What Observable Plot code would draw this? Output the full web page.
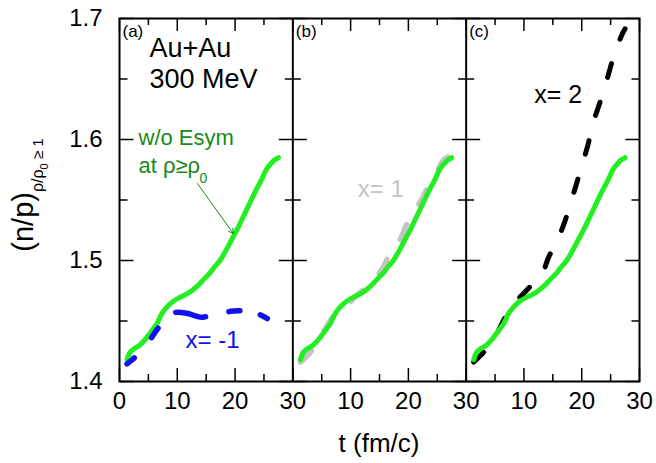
<!DOCTYPE html>
<html><head><meta charset="utf-8">
<script src="https://cdn.jsdelivr.net/npm/d3@7"></script>
<script src="https://cdn.jsdelivr.net/npm/@observablehq/plot@0.6"></script>
<style>body{margin:0;background:#fff}</style>
</head><body><div id="chart"></div>
<script>
const panels = ["a", "b", "c"];

const tGreen = [1.3, 1.8, 2.5, 3.5, 4.5, 5.6, 6.5, 7.2, 7.7, 8.5, 9.5, 10.5, 11.5, 12.5, 13.5, 14.5, 15.7, 16.5, 17.4, 18.5, 19.5, 20.5, 21.5, 22.5, 23.5, 24.5, 25.5, 26.2, 26.8, 27.5];
const vGreen = [1.418, 1.424, 1.427, 1.430, 1.435, 1.442, 1.448, 1.455, 1.4587, 1.463, 1.467, 1.4697, 1.472, 1.475, 1.479, 1.484, 1.490, 1.495, 1.500, 1.509, 1.518, 1.527, 1.537, 1.547, 1.557, 1.566, 1.576, 1.580, 1.583, 1.585];

const tBlue = [1.3, 2.2, 3.3, 4.5, 5.6, 6.5, 7.4, 8.3, 9.2, 10.0, 11.0, 12.0, 13.0, 14.0, 15.0, 16.0, 17.0, 18.0, 19.2, 20.5, 22.0, 23.5, 24.6, 25.6, 26.7];
const vBlue = [1.4146, 1.418, 1.423, 1.429, 1.4366, 1.443, 1.448, 1.452, 1.456, 1.4573, 1.4568, 1.456, 1.4545, 1.4532, 1.4535, 1.4537, 1.455, 1.4565, 1.458, 1.4585, 1.458, 1.457, 1.4545, 1.452, 1.449];

const tGray = [1.3, 3.0, 5.3, 7.5, 9.3, 11.0, 12.5, 14.2, 15.6, 16.8, 18.5, 20.0, 21.7, 23.4, 25.0, 26.0, 27.0];
const vGray = [1.416, 1.424, 1.441, 1.457, 1.4628, 1.471, 1.477, 1.485, 1.494, 1.5055, 1.5165, 1.533, 1.5455, 1.5606, 1.574, 1.5826, 1.586];

const tBlack = [1.3, 3.0, 5.0, 7.0, 8.8, 10.8, 13.1, 14.3, 16.0, 17.2, 18.3, 19.2, 20.2, 21.1, 22.0, 22.9, 24.1, 25.5, 26.9, 27.5];
const vBlack = [1.416, 1.424, 1.437, 1.455, 1.467, 1.477, 1.489, 1.503, 1.519, 1.534, 1.551, 1.565, 1.581, 1.596, 1.614, 1.627, 1.645, 1.668, 1.686, 1.6915];

const xMajor = [0, 10, 20, 30];
const xMinor = [5, 15, 25];
const yMajor = [1.4, 1.5, 1.6, 1.7];
const yMinor = [1.45, 1.55, 1.65];
const span = 30;
const yDomain = [1.4, 1.7];

// the three panels are laid side by side on one continuous x scale
const off = Object.fromEntries(panels.map((p, k) => [p, k * span]));
const xDomain = [0, span * panels.length];
const green = panels.flatMap(p => tGreen.map((t, i) => ({x: t + off[p], v: vGreen[i]})));
const blue = tBlue.map((t, i) => ({x: t + off.a, v: vBlue[i]}));
const gray = tGray.map((t, i) => ({x: t + off.b, v: vGray[i]}));
const black = tBlack.map((t, i) => ({x: t + off.c, v: vBlack[i]}));
const majorAll = [...new Set(panels.flatMap(p => xMajor.map(t => t + off[p])))];
const minorAll = panels.flatMap(p => xMinor.map(t => t + off[p]));
const bounds = panels.map(p => off[p]).concat([xDomain[1]]);
const inner = bounds.slice(1, -1);
const xLabels = majorAll.map(x => ({x, label: x === 0 ? "0" : String(x % span === 0 ? span : x % span)}));

const W = 656, H = 463, mL = 119, mR = 17, mT = 18, mB = 82;
const frameH = H - mT - mB;
const pxPerX = (W - mL - mR) / (xDomain[1] - xDomain[0]);
const ddx = pxl => pxl / pxPerX;
// y ticks: short horizontal segments pointing into the panel on both sides of every border
const yTickRows = [];
for (const [vals, len] of [[yMajor, 14], [yMinor, 8]]) {
  for (const v of vals) {
    for (const b of bounds) {
      if (b < xDomain[1]) yTickRows.push({x1: b, x2: b + ddx(len), v});
      if (b > xDomain[0]) yTickRows.push({x1: b, x2: b - ddx(len), v});
    }
  }
}

const lineOpts = {x: "x", y: "v", strokeWidth: 5, strokeLinecap: "round", strokeLinejoin: "round", curve: "catmull-rom"};
const font = "Liberation Sans, Arial, Helvetica, sans-serif";
const dkGreen = "#178a17";
const tk = {stroke: "black", strokeWidth: 1.5};

const plot = Plot.plot({
  width: W, height: H,
  marginLeft: mL, marginRight: mR, marginTop: mT, marginBottom: mB,
  style: {fontFamily: font, background: "white", color: "black"},
  x: {domain: xDomain, axis: null},
  y: {domain: yDomain},
  marks: [
    Plot.line(gray, {...lineOpts, stroke: "#c4c4c4", strokeWidth: 5.5, strokeDasharray: "16,24"}),
    Plot.line(black, {...lineOpts, stroke: "black", strokeDasharray: "14,26"}),
    Plot.line(green, {...lineOpts, z: d => Math.floor(d.x / span), stroke: "#22ee22"}),
    Plot.line(blue, {...lineOpts, stroke: "#1010f0", strokeWidth: 5.5, strokeDasharray: "9.5,26.5,11.5,24,30.5,24,11,21,8,30"}),
    Plot.ruleX(majorAll, {...tk, insetTop: frameH - 13}),
    Plot.ruleX(majorAll, {...tk, insetBottom: frameH - 13}),
    Plot.ruleX(minorAll, {...tk, insetTop: frameH - 7}),
    Plot.ruleX(minorAll, {...tk, insetBottom: frameH - 7}),
    Plot.link(yTickRows, {...tk, x1: "x1", x2: "x2", y1: "v", y2: "v"}),
    Plot.ruleX(inner, {stroke: "black", strokeWidth: 2}),
    Plot.frame({stroke: "black", strokeWidth: 2}),
    Plot.axisY({ticks: yMajor, tickSize: 0, tickPadding: 17, fontSize: 24, tickFormat: d => d.toFixed(1), label: null}),
    Plot.text(xLabels, {x: "x", text: "label", frameAnchor: "bottom", dy: 27, fontSize: 24}),
    Plot.text(panels, {x: d => off[d], text: d => `(${d})`, frameAnchor: "top", textAnchor: "start", dx: 3, dy: 6, fontSize: 17}),
    Plot.text(["a"], {x: d => off[d], text: () => "Au+Au", frameAnchor: "top", textAnchor: "start", lineAnchor: "bottom", dx: 30, dy: 38, fontSize: 27}),
    Plot.text(["a"], {x: d => off[d], text: () => "300 MeV", frameAnchor: "top", textAnchor: "start", lineAnchor: "bottom", dx: 30, dy: 69, fontSize: 27}),
    Plot.text(["a"], {x: d => off[d], text: () => "w/o Esym", frameAnchor: "top", textAnchor: "start", lineAnchor: "bottom", dx: 19, dy: 126, fontSize: 22, fill: dkGreen}),
    Plot.text(["a"], {x: d => off[d], text: () => "at ρ≥ρ", frameAnchor: "top", textAnchor: "start", lineAnchor: "bottom", dx: 19, dy: 154, fontSize: 22, fill: dkGreen}),
    Plot.text(["a"], {x: d => off[d], text: () => "0", frameAnchor: "top", textAnchor: "start", lineAnchor: "bottom", dx: 80, dy: 164, fontSize: 14, fill: dkGreen}),
    Plot.arrow(["a"], {x1: d => off[d] + 13.5, y1: () => 1.5636, x2: d => off[d] + 19.7, y2: () => 1.5223, stroke: dkGreen, strokeWidth: 1, headLength: 8}),
    Plot.text(["a"], {x: d => off[d], text: () => "x= -1", frameAnchor: "top", textAnchor: "start", lineAnchor: "bottom", dx: 66, dy: 329, fontSize: 24, fill: "#1010f0"}),
    Plot.text(["b"], {x: d => off[d], text: () => "x= 1", frameAnchor: "top", textAnchor: "start", lineAnchor: "bottom", dx: 65, dy: 178, fontSize: 24, fill: "#c4c4c4"}),
    Plot.text(["c"], {x: d => off[d], text: () => "x= 2", frameAnchor: "top", textAnchor: "start", lineAnchor: "bottom", dx: 68, dy: 84, fontSize: 25, fill: "black"})
  ]
});

const svg = d3.select(plot);
svg.append("text")
  .attr("x", (mL + W - mR) / 2).attr("y", 452)
  .attr("text-anchor", "middle")
  .attr("font-family", font).attr("font-size", 26).attr("fill", "black")
  .text("t (fm/c)");
const yt = svg.append("text")
  .attr("transform", "translate(33,195) rotate(-90)")
  .attr("text-anchor", "middle")
  .attr("font-family", font).attr("font-size", 29).attr("fill", "black");
yt.append("tspan").text("(n/p)");
yt.append("tspan").attr("font-size", 16).attr("dy", 10).text("ρ/ρ");
yt.append("tspan").attr("font-size", 11).attr("dy", 5).text("0");
yt.append("tspan").attr("font-size", 15).attr("dy", -5).text(" ≥ 1");

document.getElementById("chart").appendChild(plot);
</script>
</body></html>
